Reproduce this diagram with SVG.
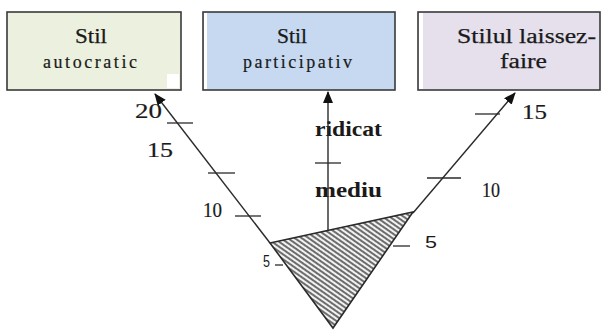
<svg xmlns="http://www.w3.org/2000/svg" width="608" height="330" viewBox="0 0 608 330">
  <style>
    .box { stroke: #3a3a3a; stroke-width: 1.6; }
    .title { font-family: "Liberation Serif", "Times New Roman", serif; font-size: 20px; fill: #1a1a1a; stroke: #1a1a1a; stroke-width: 0.25; }
    .sub { font-family: "Liberation Serif", "Times New Roman", serif; font-size: 18px; fill: #1a1a1a; stroke: #1a1a1a; stroke-width: 0.2; }
    .lvl { font-family: "Liberation Serif", "Times New Roman", serif; font-size: 21px; font-weight: bold; fill: #1a1a1a; }
    .num { font-family: "Liberation Serif", "Times New Roman", serif; font-size: 20px; fill: #1a1a1a; stroke: #1a1a1a; stroke-width: 0.2; }
    .num5 { font-family: "Liberation Sans", Arial, sans-serif; font-size: 17px; fill: #1a1a1a; }
    .axis { stroke: #2a2a2a; stroke-width: 1.4; fill: none; }
    .tick { stroke: #2a2a2a; stroke-width: 1.3; }
  </style>
  <defs>
    <marker id="arrow" viewBox="0 0 12 10" refX="11" refY="5" markerWidth="12" markerHeight="10" markerUnits="userSpaceOnUse" orient="auto">
      <path d="M0,0 L12,5 L0,10 Z" fill="#111"/>
    </marker>
    <pattern id="hatch" width="8" height="4" patternUnits="userSpaceOnUse" patternTransform="rotate(35)">
      <rect width="8" height="4" fill="#f2f2f2"/>
      <line x1="0" y1="2" x2="8" y2="2" stroke="#555" stroke-width="1.7"/>
    </pattern>
  </defs>

  <!-- style boxes -->
  <g id="node-autocratic">
    <rect class="box" x="7" y="12" width="174" height="78" fill="#ebf1de"/>
    <rect x="167" y="74" width="12" height="14" fill="#ffffff"/>
    <text class="title" x="91" y="43" text-anchor="middle" textLength="32" lengthAdjust="spacingAndGlyphs">Stil</text>
    <text class="sub" x="43" y="68" textLength="94" lengthAdjust="spacing">autocratic</text>
  </g>
  <g id="node-participativ">
    <rect class="box" x="203" y="12" width="192" height="78" fill="#c6d9f1"/>
    <rect x="204" y="13" width="3" height="76" fill="#ffffff"/>
    <text class="title" x="292" y="43" text-anchor="middle" textLength="30" lengthAdjust="spacingAndGlyphs">Stil</text>
    <text class="sub" x="243" y="68" textLength="109" lengthAdjust="spacing">participativ</text>
  </g>
  <g id="node-laissez-faire">
    <rect class="box" x="418" y="12" width="182" height="78" fill="#e5e0ec"/>
    <rect x="419" y="13" width="4" height="76" fill="#ffffff"/>
    <text class="title" x="457" y="43" textLength="139" lengthAdjust="spacingAndGlyphs">Stilul laissez-</text>
    <text class="title" x="500" y="68" textLength="47" lengthAdjust="spacingAndGlyphs">faire</text>
  </g>

  <!-- level labels and scale numbers -->
  <g id="labels">
    <text class="lvl" x="315" y="136" textLength="67" lengthAdjust="spacingAndGlyphs">ridicat</text>
    <text class="lvl" x="315" y="197" textLength="67" lengthAdjust="spacingAndGlyphs">mediu</text>
    <text class="num" x="135" y="118" textLength="27" lengthAdjust="spacingAndGlyphs">20</text>
    <text class="num" x="147" y="157" textLength="26" lengthAdjust="spacingAndGlyphs">15</text>
    <text class="num" x="203" y="217" textLength="19" lengthAdjust="spacingAndGlyphs">10</text>
    <text class="num5" x="263" y="267" textLength="7" lengthAdjust="spacingAndGlyphs">5</text>
    <text class="num" x="522" y="119" textLength="25" lengthAdjust="spacingAndGlyphs">15</text>
    <text class="num" x="482" y="197" textLength="18" lengthAdjust="spacingAndGlyphs">10</text>
    <text class="num5" x="425" y="248" textLength="12" lengthAdjust="spacingAndGlyphs">5</text>
  </g>

  <!-- hatched base triangle -->
  <g id="node-base">
    <polygon points="270,243 413,212 333,328" fill="url(#hatch)" stroke="#2a2a2a" stroke-width="1.6" stroke-linejoin="miter"/>
  </g>

  <!-- axes and scale ticks -->
  <g id="connectors">
    <line class="axis" x1="270" y1="243" x2="155" y2="94" marker-end="url(#arrow)"/>
    <line class="axis" x1="328" y1="230" x2="328" y2="92" marker-end="url(#arrow)"/>
    <line class="axis" x1="413" y1="213" x2="515" y2="93" marker-end="url(#arrow)"/>

    <line class="tick" x1="167" y1="123" x2="193" y2="123"/>
    <line class="tick" x1="208" y1="173" x2="235" y2="173"/>
    <line class="tick" x1="235" y1="216" x2="261" y2="216"/>
    <line class="tick" x1="275" y1="265" x2="283" y2="265"/>

    <line class="tick" x1="315" y1="163" x2="341" y2="163"/>

    <line class="tick" x1="475" y1="114" x2="500" y2="114"/>
    <line class="tick" x1="427" y1="178" x2="461" y2="178"/>
    <line class="tick" x1="393" y1="246" x2="410" y2="246"/>
  </g>
</svg>
